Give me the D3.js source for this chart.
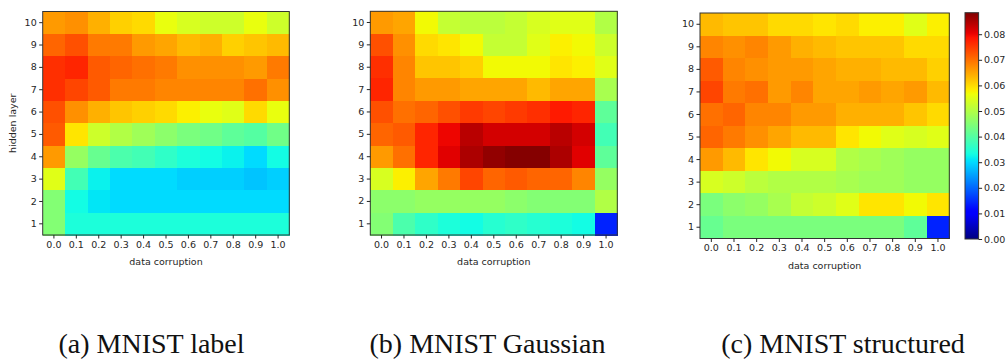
<!DOCTYPE html>
<html><head><meta charset="utf-8">
<script src="https://cdn.jsdelivr.net/npm/d3@7"></script>
<style>body{margin:0;background:#fff}svg{display:block}</style>
</head><body>
<svg id="c" width="1008" height="361"></svg>
<script>
// ---- data ----
const corruption = ["0.0","0.1","0.2","0.3","0.4","0.5","0.6","0.7","0.8","0.9","1.0"];
const layers = [10,9,8,7,6,5,4,3,2,1]; // rows, top to bottom
const colorTicks = [0.00,0.01,0.02,0.03,0.04,0.05,0.06,0.07,0.08];
const colorMax = 0.0884;
const captions = ["(a) MNIST label","(b) MNIST Gaussian","(c) MNIST structured"];

const mnistLabel = [
 [0.066,0.067,0.064,0.061,0.060,0.056,0.054,0.053,0.053,0.056,0.053],
 [0.071,0.073,0.069,0.069,0.066,0.065,0.063,0.064,0.061,0.062,0.063],
 [0.076,0.077,0.072,0.071,0.070,0.069,0.067,0.067,0.067,0.066,0.069],
 [0.076,0.074,0.072,0.069,0.069,0.068,0.068,0.068,0.068,0.070,0.067],
 [0.073,0.067,0.064,0.062,0.061,0.060,0.058,0.056,0.055,0.060,0.056],
 [0.072,0.059,0.053,0.050,0.048,0.046,0.044,0.043,0.041,0.040,0.043],
 [0.066,0.047,0.042,0.039,0.038,0.036,0.034,0.033,0.032,0.030,0.033],
 [0.055,0.038,0.032,0.030,0.030,0.030,0.029,0.029,0.029,0.028,0.029],
 [0.045,0.033,0.031,0.030,0.030,0.030,0.030,0.030,0.030,0.030,0.030],
 [0.045,0.034,0.034,0.034,0.034,0.034,0.034,0.034,0.034,0.034,0.034]
];
const mnistGaussian = [
 [0.066,0.065,0.057,0.052,0.051,0.051,0.052,0.054,0.055,0.055,0.050],
 [0.073,0.067,0.060,0.059,0.057,0.052,0.052,0.055,0.058,0.057,0.053],
 [0.076,0.068,0.062,0.062,0.061,0.057,0.057,0.057,0.059,0.058,0.055],
 [0.077,0.068,0.066,0.066,0.065,0.065,0.065,0.063,0.065,0.065,0.049],
 [0.073,0.070,0.071,0.073,0.075,0.074,0.075,0.076,0.078,0.077,0.041],
 [0.071,0.072,0.077,0.080,0.084,0.082,0.082,0.082,0.084,0.082,0.038],
 [0.066,0.070,0.077,0.081,0.085,0.087,0.088,0.088,0.085,0.081,0.041],
 [0.054,0.058,0.065,0.069,0.074,0.071,0.072,0.071,0.071,0.068,0.047],
 [0.046,0.046,0.047,0.047,0.047,0.047,0.046,0.045,0.045,0.045,0.050],
 [0.045,0.039,0.036,0.034,0.033,0.035,0.036,0.035,0.034,0.033,0.014]
];
const mnistStructured = [
 [0.063,0.062,0.062,0.060,0.060,0.059,0.060,0.058,0.058,0.055,0.058],
 [0.068,0.067,0.068,0.066,0.064,0.063,0.062,0.062,0.062,0.060,0.060],
 [0.072,0.068,0.067,0.066,0.066,0.065,0.064,0.064,0.063,0.063,0.061],
 [0.074,0.069,0.070,0.066,0.068,0.065,0.065,0.066,0.065,0.066,0.063],
 [0.070,0.071,0.068,0.068,0.066,0.066,0.064,0.064,0.064,0.062,0.060],
 [0.071,0.069,0.067,0.065,0.063,0.063,0.059,0.057,0.055,0.054,0.055],
 [0.066,0.063,0.059,0.057,0.054,0.054,0.050,0.049,0.048,0.047,0.047],
 [0.054,0.053,0.051,0.050,0.050,0.050,0.049,0.048,0.048,0.047,0.047],
 [0.044,0.046,0.047,0.049,0.052,0.053,0.055,0.059,0.059,0.057,0.059],
 [0.042,0.044,0.044,0.044,0.044,0.044,0.044,0.044,0.044,0.041,0.014]
];

// ---- jet colormap (matplotlib segment data) ----
function seg(pts, t){
  for(let i=1;i<pts.length;i++){
    if(t<=pts[i][0]){const [x0,y0]=pts[i-1],[x1,y1]=pts[i];return y0+(y1-y0)*(t-x0)/(x1-x0);}
  }
  return pts[pts.length-1][1];
}
const R=[[0,0],[0.35,0],[0.66,1],[0.89,1],[1,0.5]];
const G=[[0,0],[0.125,0],[0.375,1],[0.64,1],[0.91,0],[1,0]];
const B=[[0,0.5],[0.11,1],[0.34,1],[0.65,0],[1,0]];
function jet(t){t=Math.max(0,Math.min(1,t));
  return d3.rgb(255*seg(R,t),255*seg(G,t),255*seg(B,t)).formatHex();}
const color = d3.scaleSequential(jet).domain([0,colorMax]);

const svg = d3.select("#c");
const font = "DejaVu Sans, sans-serif";
const panels = [
  {data:mnistLabel, x0:42.7, x1:289.3, y0:11.5, y1:235, ylabel:true, cap:151.5},
  {data:mnistGaussian, x0:370.3, x1:617.3, y0:11.3, y1:235, ylabel:false, cap:487.5},
  {data:mnistStructured, x0:700, x1:949.3, y0:13, y1:238.5, ylabel:false, cap:843}
];

panels.forEach((p,pi)=>{
  const x = d3.scaleBand().domain(corruption).range([p.x0,p.x1]);
  const y = d3.scaleBand().domain(layers).range([p.y0,p.y1]);
  const g = svg.append("g");
  const cells = [];
  p.data.forEach((row,ri)=>row.forEach((v,ci)=>cells.push({l:layers[ri],c:corruption[ci],v})));
  g.selectAll("rect.cell").data(cells).join("rect")
    .attr("x",d=>x(d.c)).attr("y",d=>y(d.l))
    .attr("width",x.bandwidth()+0.5).attr("height",y.bandwidth()+0.5)
    .attr("fill",d=>color(d.v)).attr("shape-rendering","crispEdges");
  g.append("rect").attr("x",p.x0).attr("y",p.y0).attr("width",p.x1-p.x0).attr("height",p.y1-p.y0)
    .attr("fill","none").attr("stroke","#333").attr("stroke-width",1);
  const xa = g.append("g").attr("transform",`translate(0,${p.y1})`)
    .call(d3.axisBottom(x).tickSize(3.5).tickPadding(2.5));
  const ya = g.append("g").attr("transform",`translate(${p.x0},0)`)
    .call(d3.axisLeft(y).tickSize(3.5).tickPadding(2.5));
  [xa,ya].forEach(a=>{a.select(".domain").remove();
    a.selectAll("line").attr("stroke","#262626");
    a.selectAll("text").attr("fill","#262626").style("font-family",font).style("font-size","9.5px");});
  g.append("text").attr("x",(p.x0+p.x1)/2).attr("y",p.y1+30)
    .attr("text-anchor","middle").style("font-family",font).style("font-size","9.5px").attr("fill","#262626")
    .text("data corruption");
  if(p.ylabel){
    g.append("text").attr("transform",`translate(${p.x0-27},${(p.y0+p.y1)/2}) rotate(-90)`)
      .attr("text-anchor","middle").style("font-family",font).style("font-size","9.5px").attr("fill","#262626")
      .text("hidden layer");
  }
  svg.append("text").attr("x",p.cap).attr("y",353).attr("text-anchor","middle")
    .style("font-family","Liberation Serif, serif").style("font-size","28px").attr("fill","#111")
    .text(captions[pi]);
});

// ---- colorbar ----
const cb = {x0:965, x1:978.6, y0:12.7, y1:239};
const cy = d3.scaleLinear().domain([0,colorMax]).range([cb.y1,cb.y0]);
const defs = svg.append("defs");
const lg = defs.append("linearGradient").attr("id","jetg").attr("x1",0).attr("y1",1).attr("x2",0).attr("y2",0);
lg.selectAll("stop").data(d3.range(0,1.0001,0.01)).join("stop")
  .attr("offset",d=>d).attr("stop-color",d=>jet(d));
svg.append("rect").attr("x",cb.x0).attr("y",cb.y0).attr("width",cb.x1-cb.x0).attr("height",cb.y1-cb.y0)
  .attr("fill","url(#jetg)").attr("stroke","#333").attr("stroke-width",1);
const ca = svg.append("g").attr("transform",`translate(${cb.x1},0)`)
  .call(d3.axisRight(cy).tickValues(colorTicks).tickFormat(d3.format(".2f")).tickSize(3.5).tickPadding(2));
ca.select(".domain").remove();
ca.selectAll("line").attr("stroke","#262626");
ca.selectAll("text").attr("fill","#262626").style("font-family",font).style("font-size","9.5px");
</script>
</body></html>
